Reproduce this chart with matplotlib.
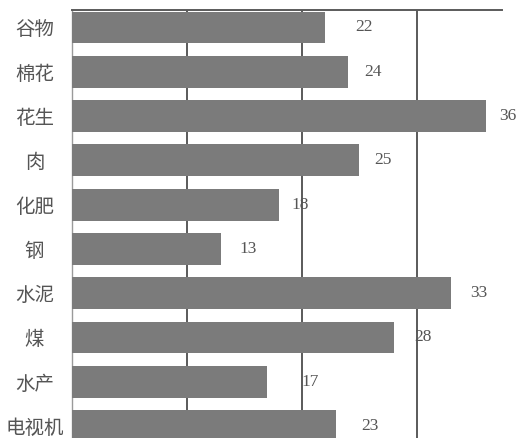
import matplotlib
matplotlib.use("Agg")
import matplotlib.pyplot as plt

# | data |-------------------------------------------------------------------------------------------------------------|
categories = ["谷物", "棉花", "花生", "肉", "化肥", "钢", "水泥", "煤", "水产", "电视机"]
values = [22, 24, 36, 25, 18, 13, 33, 28, 17, 23]
grid_ticks = [10, 20, 30]

# gap in pixels between bar end and value label (as printed)
label_gap_px = [30, 16, 13, 15, 12, 18, 19, 20, 34, 25]

plt.rcParams["font.family"] = ["Noto Sans CJK SC", "DejaVu Sans"]

W, H, DPI = 519, 438, 100
fig = plt.figure(figsize=(W / DPI, H / DPI), dpi=DPI, facecolor="w")

left_px, right_px, top_px = 72, 502, 10
ax = fig.add_axes([left_px / W, 0, (right_px - left_px) / W, (H - top_px) / H])

bar_color = "#7b7b7b"
line_color = "#5a5a5a"
text_color = "#555555"

pos = list(range(len(categories)))
ax.barh(pos, values, height=0.72, color=bar_color, zorder=3)

px_per_unit = 11.5
xmax = (right_px - left_px) / px_per_unit
ax.set_xlim(0, xmax)
ax.set_ylim(9.27, -0.395)

for g in grid_ticks:
    ax.axvline(g, color=line_color, lw=1.4, zorder=1)

ax.set_xticks([])
ax.set_yticks(pos)
ax.set_yticklabels(categories, fontsize=14, color=text_color, ha="center")
ax.tick_params(axis="y", length=0, pad=27)

for s in ["right", "bottom"]:
    ax.spines[s].set_visible(False)
ax.spines["top"].set_color(line_color)
ax.spines["top"].set_linewidth(1.4)
ax.spines["left"].set_color("#9a9a9a")
ax.spines["left"].set_linewidth(1.0)

for i, (v, gap) in enumerate(zip(values, label_gap_px)):
    ax.text(v + gap / px_per_unit, i, str(v), ha="left", va="center",
            fontsize=12.5, color=text_color, family="Liberation Serif")

fig.savefig("out.png", dpi=DPI)
